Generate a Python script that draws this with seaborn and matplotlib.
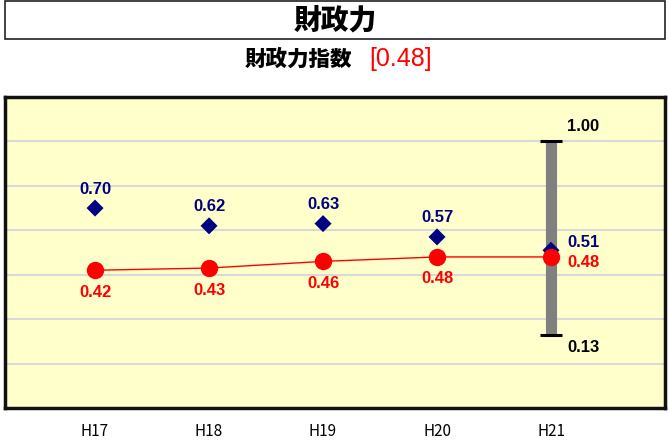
import matplotlib
matplotlib.use('Agg')
import matplotlib.pyplot as plt
import seaborn as sns
import pandas as pd
from matplotlib.patches import Rectangle

# ---- data ----
years = ['H17', 'H18', 'H19', 'H20', 'H21']
avg_values = [0.70, 0.62, 0.63, 0.57, 0.51]     # navy diamonds (類似団体平均)
city_values = [0.42, 0.43, 0.46, 0.48, 0.48]    # red line
range_max = 1.00
range_min = 0.13
index_value = 0.48
title = '財政力'
subtitle = '財政力指数'

sns.set_theme(style='white')
plt.rcParams['font.family'] = ['Liberation Sans', 'Noto Sans CJK JP', 'DejaVu Sans']

W, H = 669, 446
fig = plt.figure(figsize=(W / 100, H / 100), dpi=100)

# title box
fig.patches.append(Rectangle((5 / W, (H - 39) / H), 660 / W, 38 / H,
                             transform=fig.transFigure, facecolor='white',
                             edgecolor='#222222', lw=1.2))
fig.text(335 / W, (H - 20) / H, title, ha='center', va='center', fontsize=20,
         fontweight='heavy', color='black', family=['Noto Sans CJK JP', 'DejaVu Sans'])
fig.text(352 / W, (H - 59) / H, subtitle, ha='right', va='center', fontsize=15.5,
         fontweight='heavy', color='black', family=['Noto Sans CJK JP', 'DejaVu Sans'])
fig.text(369 / W, (H - 59) / H, f'[{index_value:.2f}]', ha='left', va='center',
         fontsize=18, color='#FF0000', family=['Liberation Sans', 'DejaVu Sans'])

ax = fig.add_axes([5 / W, 38 / H, 660 / W, 311 / H])
ax.set_facecolor('#FFFFCC')

df = pd.DataFrame({'x': list(range(len(years))), 'year': years,
                   'avg': avg_values, 'city': city_values})

xi = len(years) - 1
# range bar
ax.vlines(xi, range_min, range_max, color='#808080', lw=8, zorder=2)
ax.hlines([range_min, range_max], xi - 0.095, xi + 0.095, color='black', lw=2.2, zorder=3)

sns.scatterplot(data=df, x='x', y='avg', marker='D', s=75, color='#000080',
                edgecolor='none', ax=ax, zorder=4, legend=False)
sns.lineplot(data=df, x='x', y='city', color='#FF0000', lw=1, marker='o',
             markersize=12.5, markeredgewidth=0, ax=ax, zorder=5, legend=False)

lab_kw = dict(textcoords='offset pixels', fontsize=12, fontweight='bold',
              va='center')
for i, (a, c) in enumerate(zip(avg_values, city_values)):
    if i < xi:
        ax.annotate(f'{a:.2f}', (i, a), xytext=(0, 19), ha='center',
                    color='#000080', **lab_kw)
        ax.annotate(f'{c:.2f}', (i, c), xytext=(0, -22), ha='center',
                    color='#FF0000', **lab_kw)
    else:
        ax.annotate(f'{a:.2f}', (i, a), xytext=(16, 8), ha='left',
                    color='#000080', **lab_kw)
        ax.annotate(f'{c:.2f}', (i, c), xytext=(16, -6), ha='left',
                    color='#FF0000', **lab_kw)
ax.annotate(f'{range_max:.2f}', (xi, range_max), xytext=(16, 15), ha='left',
            color='black', **lab_kw)
ax.annotate(f'{range_min:.2f}', (xi, range_min), xytext=(16, -13), ha='left',
            color='black', **lab_kw)

ax.set_xlim(-0.79, 5.0)
ax.set_ylim(-0.2, 1.2)
ax.set_yticks([0.0, 0.2, 0.4, 0.6, 0.8, 1.0])
ax.set_yticklabels([])
ax.set_xticks(df['x'])
ax.set_xticklabels(years, family=['Noto Sans CJK JP', 'DejaVu Sans'], fontsize=11,
                   color='black')
ax.tick_params(axis='x', length=0, pad=11)
ax.tick_params(axis='y', length=0)
ax.set_xlabel('')
ax.set_ylabel('')
ax.grid(axis='y', color='#D9D9D9', lw=1.5)
ax.grid(axis='x', visible=False)
ax.set_axisbelow(True)
for s in ax.spines.values():
    s.set_color('#111111')
    s.set_linewidth(2.5)
    s.set_visible(True)

fig.savefig('out.png', dpi=100)
